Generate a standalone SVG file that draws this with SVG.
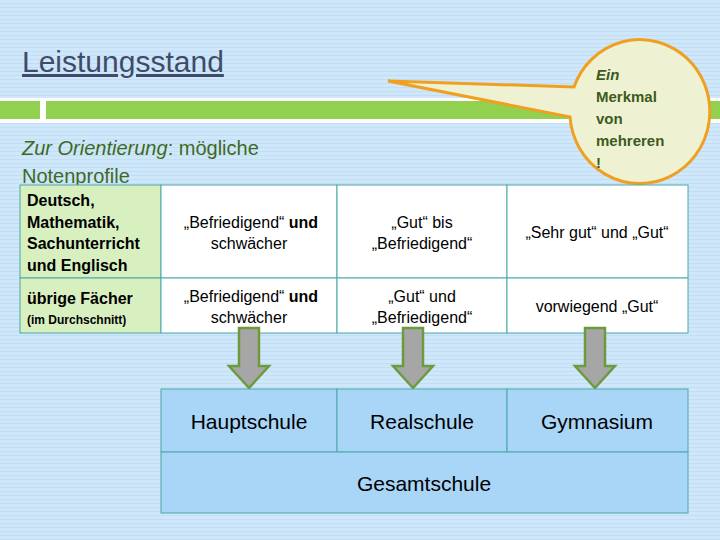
<svg xmlns="http://www.w3.org/2000/svg" width="720" height="540" viewBox="0 0 720 540">
<defs>
<pattern id="bg" width="8" height="4" patternUnits="userSpaceOnUse"><rect width="8" height="4" fill="#cfe7fb"/><rect y="3" width="8" height="1" fill="#c3ddf3"/></pattern>
<style>
.t{font-family:"Liberation Sans",Arial,sans-serif;font-size:16px;fill:#000;text-anchor:middle}
.h{font-family:"Liberation Sans",Arial,sans-serif;font-size:16px;font-weight:bold;fill:#000}
.cell{fill:#fff;stroke:#4aa8a8;stroke-width:1}
.big{font-family:"Liberation Sans",Arial,sans-serif;font-size:21px;fill:#000;text-anchor:middle}
.arr{fill:#a6a6a6;stroke:#6e9a3c;stroke-width:2.5;stroke-linejoin:miter}
</style>
</defs>
<rect width="720" height="540" fill="url(#bg)"/>
<g id="header">
<text x="22" y="72" font-family="Liberation Sans,Arial,sans-serif" font-size="30" fill="#3e4c6a" text-decoration="underline">Leistungsstand</text>
<rect x="0" y="98" width="720" height="25" fill="#fff"/>
<rect x="0" y="101" width="40" height="18" fill="#92d050"/>
<rect x="46" y="101" width="674" height="18" fill="#92d050"/>
<text x="22" y="155" font-family="Liberation Sans,Arial,sans-serif" font-size="20" fill="#3e6a24"><tspan font-style="italic">Zur Orientierung</tspan>: mögliche</text>
<text x="22" y="183" font-family="Liberation Sans,Arial,sans-serif" font-size="20" fill="#3e6a24">Notenprofile</text>
</g>
<g id="callout">
<path d="M388,81 L574,87 A70,72 0 1 1 570,117 Z" fill="#eef2d2" stroke="#f0a020" stroke-width="3"/>
<text font-family="Liberation Sans,Arial,sans-serif" font-size="15" font-weight="bold" fill="#3e5a1e"><tspan x="596" y="80" font-style="italic">Ein</tspan><tspan x="596" y="102">Merkmal</tspan><tspan x="596" y="124">von</tspan><tspan x="596" y="146">mehreren</tspan><tspan x="596" y="168">!</tspan></text>
</g>
<g id="table">
<rect class="cell" x="20" y="185" width="141" height="93" style="fill:#d8efc0"/>
<rect class="cell" x="20" y="278" width="141" height="55" style="fill:#d8efc0"/>
<rect class="cell" x="161" y="185" width="176" height="93"/>
<rect class="cell" x="337" y="185" width="170" height="93"/>
<rect class="cell" x="507" y="185" width="181" height="93"/>
<rect class="cell" x="161" y="278" width="176" height="55"/>
<rect class="cell" x="337" y="278" width="170" height="55"/>
<rect class="cell" x="507" y="278" width="181" height="55"/>
<text class="h"><tspan x="27" y="206">Deutsch,</tspan><tspan x="27" y="228">Mathematik,</tspan><tspan x="27" y="249">Sachunterricht</tspan><tspan x="27" y="271">und Englisch</tspan></text>
<text class="h" x="27" y="304">übrige Fächer</text>
<text x="27" y="324" font-family="Liberation Sans,Arial,sans-serif" font-size="12" font-weight="bold">(im Durchschnitt)</text>
<text class="t"><tspan x="251" y="228">„Befriedigend“ <tspan font-weight="bold">und</tspan></tspan><tspan x="249" y="249">schwächer</tspan></text>
<text class="t"><tspan x="422" y="228">„Gut“ bis</tspan><tspan x="422" y="249">„Befriedigend“</tspan></text>
<text class="t" x="597" y="238">„Sehr gut“ und „Gut“</text>
<text class="t"><tspan x="251" y="302">„Befriedigend“ <tspan font-weight="bold">und</tspan></tspan><tspan x="249" y="323">schwächer</tspan></text>
<text class="t"><tspan x="422" y="302">„Gut“ und</tspan><tspan x="422" y="323">„Befriedigend“</tspan></text>
<text class="t" x="597" y="312">vorwiegend „Gut“</text>
</g>
<g id="connectors">
<path class="arr" d="M239,328 H259 V366 H269 L249,388 L229,366 H239 Z"/>
<path class="arr" d="M403,328 H423 V366 H433 L413,388 L393,366 H403 Z"/>
<path class="arr" d="M585,328 H605 V366 H615 L595,388 L575,366 H585 Z"/>
</g>
<g id="schools" fill="#a9d5f7" stroke="#4aa8a8" stroke-width="1">
<g id="hauptschule"><rect x="161" y="389" width="176" height="63"/><text class="big" x="249" y="429" stroke="none">Hauptschule</text></g>
<g id="realschule"><rect x="337" y="389" width="170" height="63"/><text class="big" x="422" y="429" stroke="none">Realschule</text></g>
<g id="gymnasium"><rect x="507" y="389" width="181" height="63"/><text class="big" x="597" y="429" stroke="none">Gymnasium</text></g>
<g id="gesamtschule"><rect x="161" y="452" width="527" height="61"/><text class="big" x="424" y="491" stroke="none">Gesamtschule</text></g>
</g>
</svg>
